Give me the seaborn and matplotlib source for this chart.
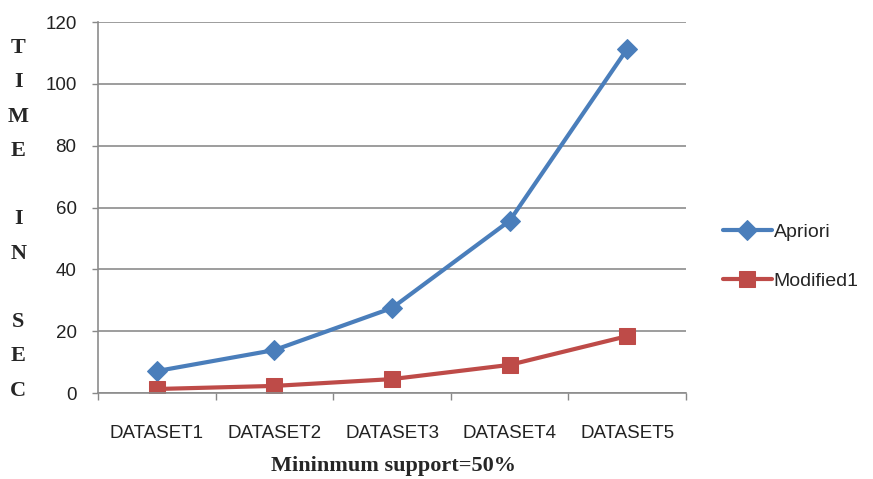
import matplotlib
matplotlib.use("Agg")
import matplotlib.pyplot as plt
import seaborn as sns
import pandas as pd

datasets = ["DATASET1", "DATASET2", "DATASET3", "DATASET4", "DATASET5"]
apriori = [7.1, 13.9, 27.5, 55.7, 111.3]
modified1 = [1.3, 2.3, 4.5, 9.1, 18.4]
series_names = ["Apriori", "Modified1"]
y_ticks = [0, 20, 40, 60, 80, 100, 120]

sns.set_theme(style="white")
plt.rcParams["font.family"] = ["Liberation Sans", "DejaVu Sans"]

df = pd.DataFrame({
    "dataset": datasets * 2,
    "pos": list(range(len(datasets))) * 2,
    "time": apriori + modified1,
    "series": [series_names[0]] * len(datasets) + [series_names[1]] * len(datasets),
})

fig = plt.figure(figsize=(8.73, 4.79), dpi=100)
ax = fig.add_axes([0.1123, 0.1795, 0.6735, 0.7745])

palette = {"Apriori": "#4A7EBB", "Modified1": "#BE4B48"}
markers = {"Apriori": "D", "Modified1": "s"}
sizes = {"Apriori": 10, "Modified1": 12}

for name in series_names:
    sub = df[df["series"] == name]
    sns.lineplot(data=sub, x="pos", y="time", ax=ax, color=palette[name],
                 linewidth=3, marker=markers[name], markersize=sizes[name],
                 markeredgecolor=palette[name], label=name)

ax.set_xlim(-0.5, len(datasets) - 0.5)
ax.set_ylim(0, 120)
ax.set_yticks(y_ticks)
ax.set_xticks(range(len(datasets)))
ax.set_xticklabels(datasets, fontsize=13.5, color="#222222")
ax.set_xticks([i - 0.5 for i in range(len(datasets) + 1)], minor=True)
ax.tick_params(axis="x", which="major", length=0, pad=23)
ax.tick_params(axis="x", which="minor", length=5, width=1, color="#888888", bottom=True)
ax.tick_params(axis="y", length=4.5, width=1, color="#888888", left=True, pad=11,
               labelsize=13.5, labelcolor="#222222")

ax.yaxis.grid(True, color="#8c8c8c", linewidth=1.2)
ax.xaxis.grid(False)
ax.set_axisbelow(True)
for side in ["top", "right"]:
    ax.spines[side].set_visible(False)
for side in ["left", "bottom"]:
    ax.spines[side].set_color("#8c8c8c")
    ax.spines[side].set_linewidth(1.2)

ax.set_xlabel("")
ax.set_ylabel("")
fig.text(0.451, 0.027, "Mininmum support=50%", ha="center", va="center",
         fontsize=16, fontweight="bold", family=["Liberation Serif", "DejaVu Serif"])

fig.text(0.021, 0.542, "T\nI\nM\nE\n\nI\nN\n\nS\nE\nC", ha="center", va="center",
         fontsize=16, fontweight="bold", family=["Liberation Serif", "DejaVu Serif"],
         linespacing=1.95)

leg = ax.legend(loc="center left", bbox_to_anchor=(1.05, 0.368), frameon=False,
                fontsize=14, handlelength=2.5, handletextpad=0.1, labelspacing=1.6,
                borderaxespad=0.0)

fig.savefig("out.png", dpi=100)
